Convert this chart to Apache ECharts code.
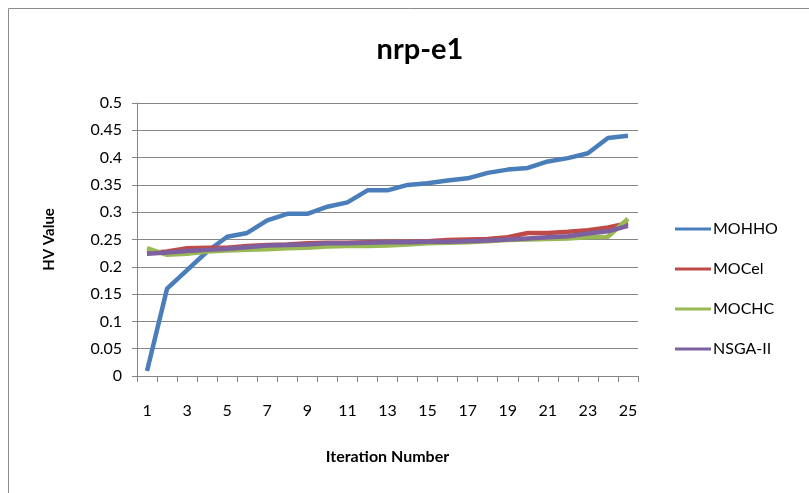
<!DOCTYPE html>
<html><head><meta charset="utf-8">
<script src="https://cdn.jsdelivr.net/npm/echarts@6/dist/echarts.min.js"></script>
<style>html,body{margin:0;padding:0;background:#fff}#c{width:809px;height:493px}</style>
</head><body><div id="c"></div>
<script>
const categories = ['1','2','3','4','5','6','7','8','9','10','11','12','13','14','15','16','17','18','19','20','21','22','23','24','25'];
const seriesNames = ['MOHHO','MOCel','MOCHC','NSGA-II'];
const mohho = [0.009,0.160,0.194,0.228,0.255,0.262,0.285,0.297,0.297,0.310,0.318,0.340,0.340,0.350,0.353,0.358,0.362,0.372,0.378,0.381,0.393,0.399,0.408,0.436,0.440];
const mocel = [0.225,0.228,0.234,0.235,0.235,0.238,0.240,0.241,0.243,0.244,0.244,0.245,0.246,0.246,0.247,0.249,0.250,0.251,0.254,0.262,0.262,0.264,0.267,0.272,0.280];
const mochc = [0.234,0.222,0.224,0.228,0.230,0.231,0.232,0.234,0.235,0.237,0.238,0.238,0.239,0.241,0.243,0.244,0.245,0.247,0.249,0.250,0.251,0.252,0.254,0.255,0.288];
const nsga2 = [0.224,0.226,0.229,0.231,0.233,0.236,0.239,0.240,0.241,0.243,0.243,0.244,0.245,0.245,0.246,0.246,0.247,0.248,0.250,0.252,0.254,0.256,0.261,0.265,0.275];
const colors = ['#4A7EBB','#BE4B48','#98B954','#7D60A0'];
const values = [mohho, mocel, mochc, nsga2];

const chart = echarts.init(document.getElementById('c'), null, {renderer:'canvas'});
const font = 'Lato, "Open Sans", sans-serif';
chart.setOption({
  animation:false,
  color: colors,
  graphic:[{type:'rect', shape:{x:8.5,y:8.5,width:900,height:600}, style:{fill:'none', stroke:'#8c8c8c', lineWidth:1}, z:-1}],
  title:{text:'nrp-e1', left:415, top:30, textAlign:'center',
    textStyle:{fontFamily:font, fontSize:29, fontWeight:'bold', color:'#000'}},
  legend:{orient:'vertical', left:670, top:216, itemGap:24, itemWidth:36, itemHeight:3,
    icon:'rect', data:seriesNames,
    textStyle:{fontFamily:font, fontSize:16, color:'#000', padding:[0,0,0,-3]}},
  grid:{left:137, right:171, top:103, bottom:117},
  xAxis:{type:'category', data:categories, boundaryGap:true,
    name:'Iteration Number', nameLocation:'middle', nameGap:73,
    nameTextStyle:{fontFamily:font, fontSize:16, fontWeight:'bold', color:'#000'},
    axisLine:{lineStyle:{color:'#868686'}},
    axisTick:{show:true, alignWithLabel:false, interval:0, length:6, lineStyle:{color:'#868686'}},
    axisLabel:{interval:1, fontFamily:font, fontSize:16, color:'#000', margin:27}},
  yAxis:{type:'value', min:0, max:0.5, interval:0.05,
    name:'HV Value', nameLocation:'middle', nameGap:80, nameRotate:90,
    nameTextStyle:{fontFamily:font, fontSize:15, fontWeight:'bold', color:'#000'},
    axisLine:{show:true, lineStyle:{color:'#868686'}},
    axisTick:{show:true, length:5, lineStyle:{color:'#868686'}},
    splitLine:{lineStyle:{color:'#868686', width:1}},
    axisLabel:{fontFamily:font, fontSize:16, color:'#000', margin:15,
      formatter: v => String(+v.toFixed(2))}},
  series: seriesNames.map((n,i)=>({name:n, type:'line', data:values[i], symbol:'none',
    lineStyle:{width:4.5, color:colors[i]}, itemStyle:{color:colors[i]}}))
});
</script></body></html>
